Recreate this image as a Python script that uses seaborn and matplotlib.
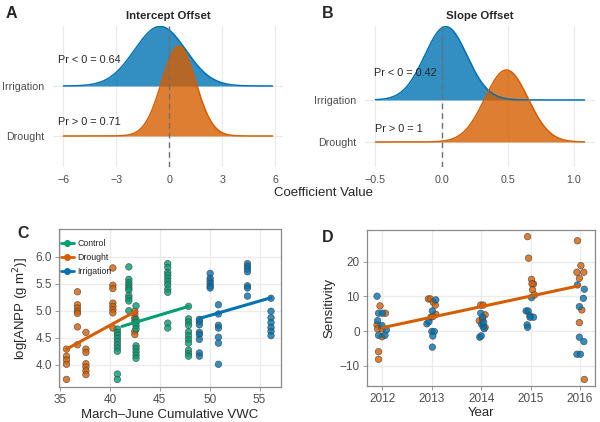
import numpy as np
import pandas as pd
import matplotlib
matplotlib.use("Agg")
import matplotlib.pyplot as plt
from matplotlib.lines import Line2D
import seaborn as sns

# ---------------- data ----------------
# Panels A/B: posterior offset distributions (mean, sd)
ridge_groups = ["Irrigation", "Drought"]
intercept_mean = [-0.52, 0.53]
intercept_sd = [1.45, 0.96]
intercept_range = [-6.0, 5.85]
slope_mean = [0.032, 0.49]
slope_sd = [0.16, 0.163]
slope_range = [-0.5, 1.08]
intercept_labels = ["Pr < 0 = 0.64", "Pr > 0 = 0.71"]
slope_labels = ["Pr < 0 = 0.42", "Pr > 0 = 1"]

# Panel C: log ANPP vs cumulative VWC
drought_vwc = [35.65, 36.75, 37.6, 40.3, 42.5]
drought_anpp = [
    [4.29, 4.16, 4.09, 4.01, 3.73],
    [5.35, 5.11, 5.05, 4.99, 4.95, 4.70, 4.37],
    [4.60, 4.29, 4.23, 4.02, 3.96, 3.89, 3.82],
    [5.79, 5.47, 5.41, 5.14, 5.08, 5.02, 4.96, 4.68],
    [4.99, 4.93, 4.86, 4.80, 4.62, 4.56],
]
control_vwc = [40.75, 41.9, 42.62, 45.8, 47.88]
control_anpp = [
    [4.66, 4.60, 4.55, 4.49, 4.43, 4.37, 4.31, 4.25, 3.83, 3.73],
    [5.81, 5.58, 5.52, 5.47, 5.42, 5.38, 5.28, 5.23, 5.18, 5.00],
    [5.09, 4.84, 4.78, 4.72, 4.66, 4.35, 4.30, 4.24, 4.18, 4.12],
    [5.87, 5.80, 5.71, 5.66, 5.60, 5.54, 5.48, 5.40, 5.34, 4.77, 4.68],
    [5.08, 4.85, 4.79, 4.73, 4.61, 4.54, 4.47, 4.40, 4.27, 4.21, 4.16],
]
irrig_vwc = [48.97, 50.05, 50.88, 53.79, 56.15]
irrig_anpp = [
    [4.84, 4.80, 4.74, 4.60, 4.56, 4.47, 4.22, 4.16],
    [5.69, 5.60, 5.55, 5.50, 5.45, 5.42],
    [5.11, 4.94, 4.73, 4.68, 4.51, 4.40, 4.01],
    [5.87, 5.82, 5.77, 5.72, 5.46, 5.42, 5.27],
    [5.23, 4.99, 4.87, 4.78, 4.69, 4.62, 4.54],
]
fit_drought_x = [35.65, 42.6]
fit_drought_y = [4.29, 4.99]
fit_control_x = [41.2, 47.88]
fit_control_y = [4.71, 5.08]
fit_irrig_x = [49.04, 56.15]
fit_irrig_y = [4.86, 5.24]

# Panel D: sensitivity by year (jittered year positions as read)
d_year = [2011.95, 2012.06, 2011.89, 2011.90, 2011.99, 2011.99, 2011.92, 2011.92,
          2012.93, 2012.97, 2013.03, 2013.07, 2013.08, 2012.98, 2013.02,
          2013.99, 2014.04, 2014.08, 2013.96, 2014.08, 2014.03,
          2014.94, 2014.96, 2015.02, 2015.06, 2015.03, 2015.04, 2015.08,
          2015.95, 2016.02, 2015.94, 2016.08, 2015.99, 2016.04, 2015.99, 2016.09]
d_sens = [7.26, 5.15, 1.8, 0.64, 0.64, -1.6, -5.9, -8.1,
          9.27, 9.27, 8.3, 7.5, 4.85, 4.0, 4.2,
          7.5, 7.5, 4.7, 3.0, 1.1, 3.3,
          27.2, 21.0, 14.9, 13.6, 13.6, 11.9, 10.4,
          26.0, 18.85, 16.95, 16.95, 15.2, 6.1, 2.45, -13.9]
i_year = [2011.89, 2011.92, 2012.00, 2011.90, 2011.99, 2012.08, 2011.92, 2012.05,
          2013.08, 2013.01, 2012.90, 2012.94, 2013.00, 2013.05, 2013.02, 2013.01,
          2013.99, 2014.03, 2014.01, 2014.04, 2014.06, 2013.97, 2014.00, 2014.05,
          2015.02, 2014.91, 2014.95, 2014.99, 2015.06, 2014.99, 2014.93, 2014.94,
          2015.95, 2016.09, 2016.07, 2015.99, 2015.99, 2016.08, 2015.94, 2016.01]
i_sens = [10.05, 5.15, 5.15, 3.0, 1.6, 0.35, -1.2, -1.2,
          9.0, 5.8, 2.1, 2.7, -0.1, -0.1, -1.4, -4.6,
          5.15, 4.0, 2.0, 1.3, 0.7, -1.75, -1.35, 2.5,
          9.65, 5.8, 5.8, 4.4, 4.0, 4.0, 1.8, 1.1,
          13.3, 12.05, 9.45, 7.05, -1.75, -3.0, -6.65, -6.65]
fit_year = [2012, 2016]
fit_sens = [1.0, 13.1]
year_ticks = [2012, 2013, 2014, 2015, 2016]

# ---------------- style ----------------
sns.set_style("white")
plt.rcParams["font.family"] = ["Liberation Sans", "DejaVu Sans"]
plt.rcParams["axes.unicode_minus"] = True

COL = {"Control": "#009E73", "Drought": "#D55E00", "Irrigation": "#0072B2"}
GRID = "#ebebeb"
TICKC = "#4d4d4d"

W, H = 600, 422
fig = plt.figure(figsize=(6, 4.22), dpi=100)


def add_ax(l, t, r, b):
    return fig.add_axes([l / W, 1 - b / H, (r - l) / W, (b - t) / H])


def ridge_panel(ax, means, sds, xr, scale, ylim, xticks, labels, label_pos, title):
    x = np.linspace(xr[0], xr[1], 600)
    bases = {"Irrigation": 2, "Drought": 1}
    for g, m, s in zip(ridge_groups, means, sds):
        dens = np.exp(-0.5 * ((x - m) / s) ** 2) / (s * np.sqrt(2 * np.pi))
        df = pd.DataFrame({"x": x, "y": bases[g] + scale * dens})
        ax.fill_between(df["x"], bases[g], df["y"], color=COL[g], alpha=0.8,
                        lw=0, zorder=2)
        sns.lineplot(data=df, x="x", y="y", ax=ax, color=COL[g], lw=1.1,
                     zorder=3, estimator=None, sort=False)
    ax.axvline(0, color="#707070", ls=(0, (4, 3)), lw=1.0, zorder=5)
    pad = (xr[1] - xr[0]) * 0.05
    ax.set_xlim(xr[0] - pad, xr[1] + pad)
    ax.set_ylim(*ylim)
    ax.set_xticks(xticks)
    ax.set_yticks([2, 1])
    ax.set_yticklabels(ridge_groups)
    ax.set_xlabel("")
    ax.set_ylabel("")
    for sp in ax.spines.values():
        sp.set_visible(False)
    ax.grid(True, color=GRID, lw=0.9, zorder=0)
    ax.set_axisbelow(True)
    ax.tick_params(length=0, labelsize=7.7, colors=TICKC, pad=6)
    ax.set_title(title, fontsize=8.2, fontweight="bold", pad=5)
    for txt, (tx, ty) in zip(labels, label_pos):
        ax.text(tx, ty, txt, fontsize=7.8, ha="left", va="center", zorder=6)


axA = add_ax(53, 26, 283, 167)
ridge_panel(axA, intercept_mean, intercept_sd, intercept_range, 4.33, (0.38, 3.2),
            [-6, -3, 0, 3, 6], intercept_labels, [(-6.3, 2.52), (-6.3, 1.28)],
            "Intercept Offset")
axA.set_xticklabels(["\u22126", "\u22123", "0", "3", "6"])

axB = add_ax(365, 26, 595, 167)
ridge_panel(axB, slope_mean, slope_sd, slope_range, 0.70, (0.405, 3.76),
            [-0.5, 0.0, 0.5, 1.0], slope_labels, [(-0.51, 2.64), (-0.5, 1.31)],
            "Slope Offset")
axB.set_xticklabels(["\u22120.5", "0.0", "0.5", "1.0"])

fig.text(324 / W, 1 - 193 / H, "Coefficient Value", fontsize=9.5,
         ha="center", va="center")


def box_style(ax):
    for sp in ax.spines.values():
        sp.set_visible(True)
        sp.set_color("#8a8a8a")
        sp.set_linewidth(0.9)
    ax.grid(True, color=GRID, lw=0.9)
    ax.set_axisbelow(True)
    ax.tick_params(length=3, width=0.6, color="#8a8a8a", labelsize=8.5,
                   labelcolor=TICKC, pad=2, bottom=True, left=True)


# ---------------- panel C ----------------
rows = []
for trt, xs, ys in [("Drought", drought_vwc, drought_anpp),
                    ("Control", control_vwc, control_anpp),
                    ("Irrigation", irrig_vwc, irrig_anpp)]:
    for xv, col in zip(xs, ys):
        for yv in col:
            rows.append({"vwc": xv, "anpp": yv, "trt": trt})
dfc = pd.DataFrame(rows)

axC = add_ax(59, 229, 281, 387)
sns.scatterplot(data=dfc, x="vwc", y="anpp", hue="trt", palette=COL, s=22,
                alpha=0.8, edgecolor="#444444", linewidth=0.5, legend=False,
                ax=axC, zorder=3)
for fx, fy, trt in [(fit_drought_x, fit_drought_y, "Drought"),
                    (fit_control_x, fit_control_y, "Control"),
                    (fit_irrig_x, fit_irrig_y, "Irrigation")]:
    sns.lineplot(x=fx, y=fy, color=COL[trt], lw=2.2, ax=axC, zorder=4)
axC.set_xlim(34.9, 57.15)
axC.set_ylim(3.59, 6.51)
axC.set_xticks([35, 40, 45, 50, 55])
axC.set_yticks([4.0, 4.5, 5.0, 5.5, 6.0])
axC.set_yticklabels(["4.0", "4.5", "5.0", "5.5", "6.0"])
box_style(axC)
axC.set_xlabel("March\u2013June Cumulative VWC", fontsize=9.5, labelpad=2)
axC.set_ylabel("log[ANPP (g m$^{2}$)]", fontsize=9.5, labelpad=3)
handles = [Line2D([0], [0], color=COL[t], lw=2, marker="o", markersize=4,
                  markeredgecolor=COL[t]) for t in ["Control", "Drought", "Irrigation"]]
axC.legend(handles, ["Control", "Drought", "Irrigation"], loc="upper left",
           bbox_to_anchor=(-0.005, 0.955), frameon=False, fontsize=6.3,
           handlelength=1.5, handletextpad=0.4, labelspacing=0.6,
           borderaxespad=0.0, borderpad=0.3)

# ---------------- panel D ----------------
dfd = pd.DataFrame({
    "year": d_year + i_year,
    "sens": d_sens + i_sens,
    "trt": ["Drought"] * len(d_year) + ["Irrigation"] * len(i_year),
})
axD = add_ax(366.7, 230, 594.7, 385.7)
sns.scatterplot(data=dfd, x="year", y="sens", hue="trt", palette=COL, s=22,
                alpha=0.8, edgecolor="#444444", linewidth=0.5, legend=False,
                ax=axD, zorder=3)
sns.lineplot(x=fit_year, y=fit_sens, color=COL["Drought"], lw=2.2, ax=axD, zorder=4)
axD.set_xlim(2011.68, 2016.3)
axD.set_ylim(-15.7, 29.1)
axD.set_xticks(year_ticks)
axD.set_xticklabels([str(y) for y in year_ticks])
axD.set_yticks([-10, 0, 10, 20])
axD.set_yticklabels(["\u221210", "0", "10", "20"])
box_style(axD)
axD.set_xlabel("Year", fontsize=9.5, labelpad=2)
axD.set_ylabel("Sensitivity", fontsize=9.5, labelpad=3)

# panel letters
for lab, (px, py) in {"A": (11, 13), "B": (328, 13), "C": (23, 234), "D": (328, 237)}.items():
    fig.text(px / W, 1 - py / H, lab, fontsize=11.5, fontweight="bold",
             ha="center", va="center")

fig.savefig("out.png", dpi=100)
